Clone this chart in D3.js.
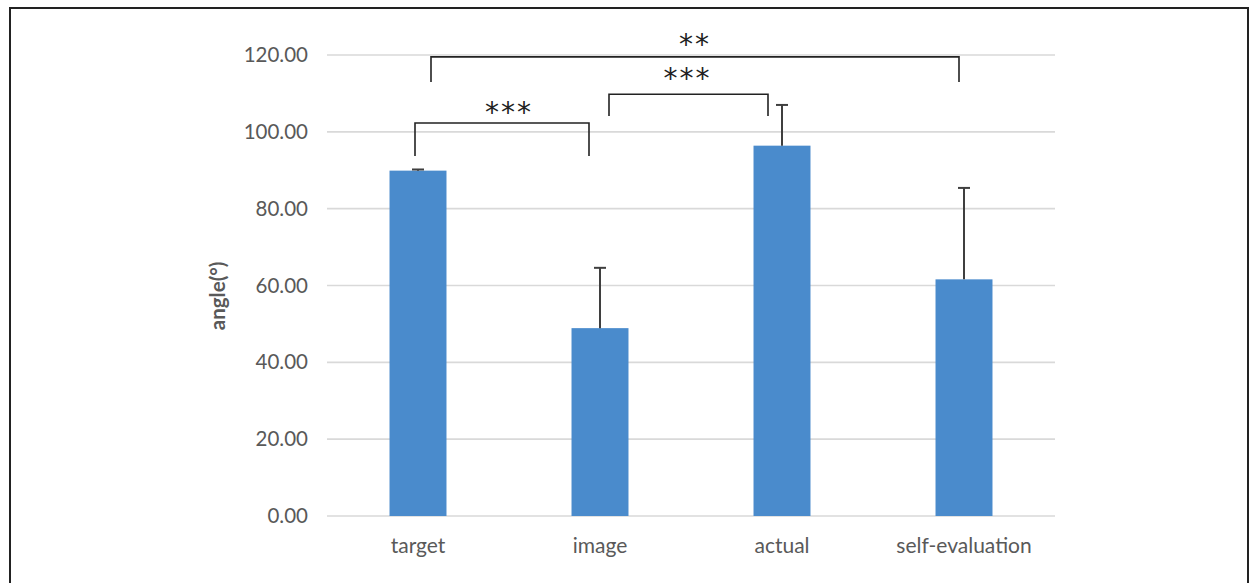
<!DOCTYPE html>
<html>
<head>
<meta charset="utf-8">
<script src="https://cdn.jsdelivr.net/npm/d3@7"></script>
<style>
  body { margin: 0; background: #fff; }
</style>
</head>
<body>
<div id="chart"></div>
<script>
// data
const categories = ["target", "image", "actual", "self-evaluation"];
const means = [89.9, 48.9, 96.4, 61.6];
const sds = [0.3, 15.7, 10.6, 23.8];
const yTicks = [0, 20, 40, 60, 80, 100, 120];

// significance brackets: from / to category index, bar level, leg end, label
const bracketFrom = [0, 1, 0];
const bracketTo = [1, 2, 3];
const bracketLevel = [102.3, 109.8, 119.5];
const bracketLeg = [93.7, 104.1, 113.0];
const bracketLabel = ["***", "***", "**"];
const labelLevel = [106.5, 115.4, 124.2];

const width = 1250;
const height = 583;
const margin = { left: 327, right: 195, top: 55, bottom: 67 };

const svg = d3.select("#chart")
  .append("svg")
  .attr("width", width)
  .attr("height", height);

// outer frame
svg.append("rect")
  .attr("x", 10)
  .attr("y", 8)
  .attr("width", 1238)
  .attr("height", 620)
  .attr("fill", "none")
  .attr("stroke", "#222")
  .attr("stroke-width", 2);

const x = d3.scaleBand()
  .domain(categories)
  .range([margin.left, width - margin.right])
  .paddingInner(0.687)
  .paddingOuter(0.3435);

const y = d3.scaleLinear()
  .domain([0, 120])
  .range([height - margin.bottom, margin.top]);

// gridlines
svg.append("g")
  .selectAll("line")
  .data(yTicks)
  .enter()
  .append("line")
  .attr("x1", margin.left)
  .attr("x2", width - margin.right)
  .attr("y1", d => y(d))
  .attr("y2", d => y(d))
  .attr("stroke", "#d9d9d9")
  .attr("stroke-width", 1.6);

// y axis labels
const yAxis = d3.axisLeft(y)
  .tickValues(yTicks)
  .tickFormat(d3.format(".2f"))
  .tickSize(0)
  .tickPadding(19);

svg.append("g")
  .attr("transform", `translate(${margin.left},0)`)
  .call(yAxis)
  .call(g => g.select(".domain").remove())
  .selectAll("text")
  .attr("font-family", "Lato, 'Open Sans', sans-serif")
  .attr("font-size", "20.5px")
  .attr("fill", "#595959");

// x axis labels
const xAxis = d3.axisBottom(x).tickSize(0).tickPadding(22);

svg.append("g")
  .attr("transform", `translate(0,${height - margin.bottom})`)
  .call(xAxis)
  .call(g => g.select(".domain").remove())
  .selectAll("text")
  .attr("font-family", "Lato, 'Open Sans', sans-serif")
  .attr("font-size", "21px")
  .attr("fill", "#595959");

// axis title
svg.append("text")
  .attr("transform", `translate(225,${y(57.3)}) rotate(-90)`)
  .attr("text-anchor", "middle")
  .attr("font-family", "Lato, 'Open Sans', sans-serif")
  .attr("font-size", "20.5px")
  .attr("font-weight", "bold")
  .attr("fill", "#595959")
  .text("angle(°)");

// bars
svg.append("g")
  .selectAll("rect")
  .data(categories)
  .enter()
  .append("rect")
  .attr("x", d => x(d))
  .attr("y", (d, i) => y(means[i]))
  .attr("width", x.bandwidth())
  .attr("height", (d, i) => y(0) - y(means[i]))
  .attr("fill", "#4a8bcc");

// error bars (upper only)
const err = svg.append("g")
  .attr("stroke", "#3f3f3f")
  .attr("stroke-width", 2);

categories.forEach((c, i) => {
  const cx = x(c) + x.bandwidth() / 2;
  err.append("line")
    .attr("x1", cx).attr("x2", cx)
    .attr("y1", y(means[i]))
    .attr("y2", y(means[i] + sds[i]));
  err.append("line")
    .attr("x1", cx - 6).attr("x2", cx + 6)
    .attr("y1", y(means[i] + sds[i]))
    .attr("y2", y(means[i] + sds[i]));
});

// brackets, ends nudged a little as in the original drawing
const legShift = [[-3, -11], [9, -14], [13, -5]];
const labelShift = [7, -1, 0];

const brackets = svg.append("g");

bracketLabel.forEach((lab, i) => {
  const x1 = x(categories[bracketFrom[i]]) + x.bandwidth() / 2 + legShift[i][0];
  const x2 = x(categories[bracketTo[i]]) + x.bandwidth() / 2 + legShift[i][1];
  brackets.append("path")
    .attr("d", `M${x1},${y(bracketLeg[i])}V${y(bracketLevel[i])}H${x2}V${y(bracketLeg[i])}`)
    .attr("fill", "none")
    .attr("stroke", "#222")
    .attr("stroke-width", 1.6);
  brackets.append("text")
    .attr("x", (x1 + x2) / 2 + labelShift[i])
    .attr("y", y(labelLevel[i]))
    .attr("dy", "0.55em")
    .attr("text-anchor", "middle")
    .attr("font-family", "'DejaVu Sans', sans-serif")
    .attr("font-size", "28px")
    .attr("letter-spacing", "2px")
    .attr("fill", "#222")
    .text(lab);
});
</script>
</body>
</html>
